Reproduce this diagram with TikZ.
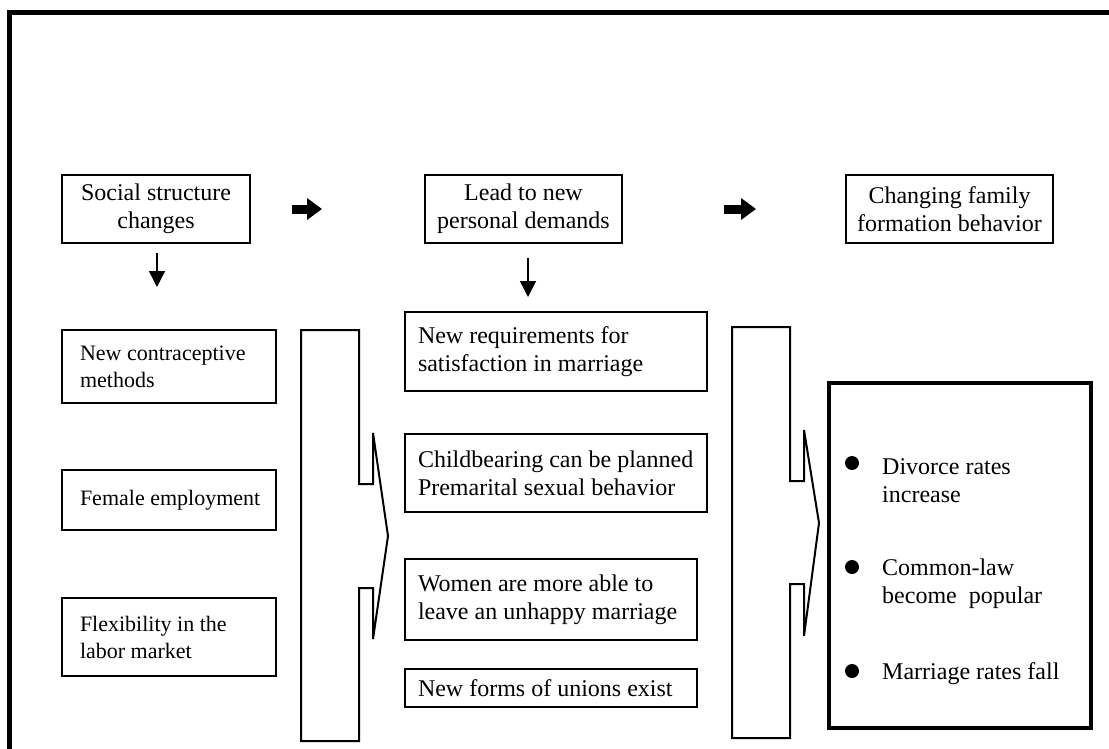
\documentclass[tikz,border=0pt]{standalone}
\usepackage{fontspec}
\setmainfont{Liberation Serif}
\usetikzlibrary{arrows.meta}
\begin{document}
\begin{tikzpicture}[x=1pt,y=-1pt,
  txt/.style={font=\fontsize{24}{28}\selectfont},
  hbox/.style={draw, line width=2pt, txt, align=center, inner sep=0pt},
  lbox/.style={draw, line width=2pt, font=\fontsize{22}{27}\selectfont, align=flush left, inner ysep=0pt, inner xsep=18pt, text width=178pt},
  mbox/.style={draw, line width=2pt, txt, align=flush left, inner ysep=0pt, inner xsep=13pt},
  brk/.style={draw, line width=2pt, line join=miter},
  downarr/.style={line width=1.5pt, -{Triangle[length=16pt,width=16pt]}},
  blockarr/.style={line width=9pt, -{Triangle[length=15pt,width=21pt]}},
  item/.style={txt, anchor=west, align=left, inner sep=0pt},
  dot/.style={fill=black}
  ]
\useasboundingbox (0,0) rectangle (1109,749);
\begin{scope}
\clip (0,0) rectangle (1109,749);
\draw[line width=5pt] (9.5,770) -- (9.5,12.5) -- (1130,12.5);
\end{scope}

% header boxes
\node[hbox, minimum width=188pt, minimum height=68pt] (h1) at (156,209) {Social structure\\changes};
\node[hbox, minimum width=197pt, minimum height=68pt] (h2) at (523.5,209) {Lead to new\\personal demands};
\node[hbox, minimum width=207pt, minimum height=68pt] (h3) at (949.5,209) {Changing family\\formation behavior};

% left column
\node[lbox, minimum height=73pt] (c1) at (169,366.5) {\mbox{New contraceptive}\\methods};
\node[lbox, minimum height=60pt] (c2) at (169,500) {\mbox{Female employment}};
\node[lbox, minimum height=78pt] (c3) at (169,637) {\mbox{Flexibility in the}\\labor market};

% middle column
\node[mbox, text width=276pt, minimum height=79pt] (m1) at (556,351.5) {\mbox{New requirements for}\\\mbox{satisfaction in marriage}};
\node[mbox, text width=276pt, minimum height=78pt] (m2) at (556,473) {\mbox{Childbearing can be planned}\\\mbox{Premarital sexual behavior}};
\node[mbox, text width=266pt, minimum height=81pt] (m3) at (551,599.5) {\mbox{Women are more able to}\\\mbox{leave an unhappy marriage}};
\node[mbox, text width=266pt, minimum height=38pt] (m4) at (551,688) {\mbox{New forms of unions exist}};

% result box
\node[draw, line width=4pt, minimum width=262pt, minimum height=345pt] (res) at (960,555.5) {};
\fill[dot] (852,463) circle[radius=7pt];
\fill[dot] (852,567) circle[radius=7pt];
\fill[dot] (852,671) circle[radius=7pt];
\node[item] (r1) at (882,481) {Divorce rates\\increase};
\node[item] (r2) at (882,584) {Common-law\\become~ popular};
\node[item] (r3) at (882,674) {Marriage rates fall};

% brackets
\path[brk] (301,330) -- (359,330) -- (359,484) -- (373,484) -- (373,433) -- (388,536)
  -- (373,639) -- (373,588) -- (359,588) -- (359,741) -- (301,741) -- cycle;
\path[brk] (732,327) -- (790,327) -- (790,481) -- (804,481) -- (804,430) -- (819,523)
  -- (804,636) -- (804,584) -- (790,584) -- (790,738) -- (732,738) -- cycle;

% connectors
\draw[blockarr, shorten <=41pt, shorten >=102pt] (h1.east) -- (h2.west);
\draw[blockarr, shorten <=101pt, shorten >=89pt] (h2.east) -- (h3.west);
\draw[downarr, shorten <=9pt, shorten >=42pt] ([xshift=1pt]h1.south) -- ([xshift=1pt]h1.south |- c1.north);
\draw[downarr, shorten <=14pt, shorten >=14pt] ([xshift=4.5pt]h2.south) -- ([xshift=4.5pt]h2.south |- m1.north);
\end{tikzpicture}
\end{document}
